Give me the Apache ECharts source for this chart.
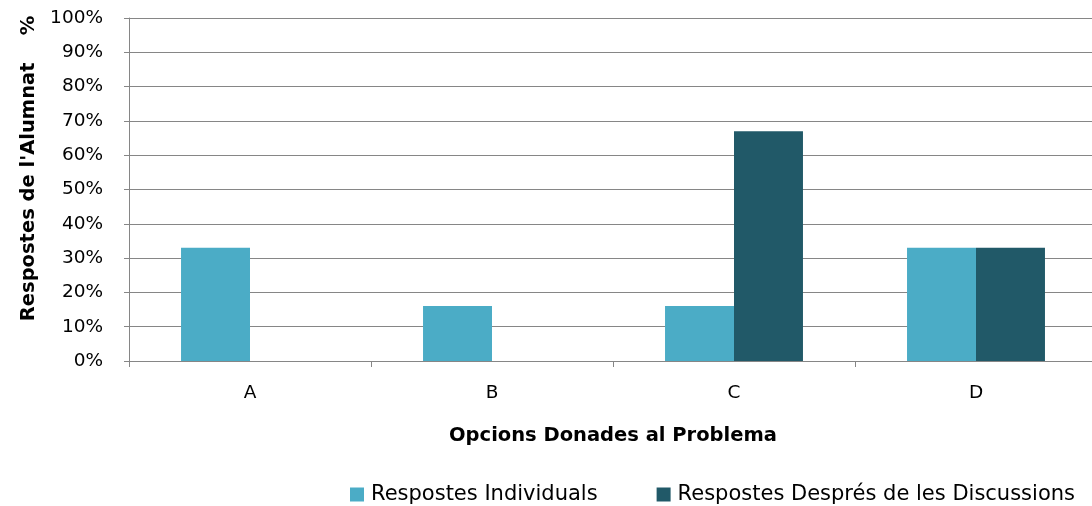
<!DOCTYPE html>
<html>
<head>
<meta charset="utf-8">
<script src="https://cdn.jsdelivr.net/npm/echarts@6/dist/echarts.min.js"></script>
<style>
  html, body { margin: 0; padding: 0; background: #fff; overflow: hidden; }
  #chart { width: 1100px; height: 506px; }
</style>
</head>
<body>
<div id="chart"></div>
<script>
// Answer options and the share of students choosing each one (%)
const categories = ['A', 'B', 'C', 'D'];
const individual = [33, 16, 16, 33];
const afterDiscussion = [0, 0, 67, 33];
const seriesNames = ['Respostes Individuals', 'Respostes Després de les Discussions'];
const yTicks = [0, 10, 20, 30, 40, 50, 60, 70, 80, 90, 100];

const FONT = 'DejaVu Sans';
const GRID_GREY = '#868686';

const chart = echarts.init(document.getElementById('chart'));
chart.setOption({
  animation: false,
  textStyle: { fontFamily: FONT, color: '#000' },
  // the plot runs slightly past the right edge of the visible page
  grid: { left: 129, right: 3, top: 18, bottom: 145 },
  legend: {
    data: seriesNames,
    left: 345,
    top: 479,
    icon: 'rect',
    itemWidth: 14,
    itemHeight: 14,
    itemGap: 59,
    textStyle: { fontFamily: FONT, fontSize: 21, color: '#000', padding: [0, 0, 0, 2] }
  },
  xAxis: {
    type: 'category',
    data: categories,
    name: 'Opcions Donades al Problema',
    nameLocation: 'middle',
    nameGap: 65,
    nameTextStyle: { fontFamily: FONT, fontSize: 19.5, fontWeight: 'bold', color: '#000' },
    axisLine: { lineStyle: { color: GRID_GREY, width: 1 } },
    axisTick: { show: true, length: 6, interval: 0, lineStyle: { color: GRID_GREY } },
    axisLabel: { fontFamily: FONT, fontSize: 18.5, color: '#000', margin: 23 }
  },
  yAxis: {
    type: 'value',
    min: yTicks[0],
    max: yTicks[yTicks.length - 1],
    interval: 10,
    name: "Respostes de l'Alumnat    %",
    nameLocation: 'middle',
    nameRotate: 90,
    nameGap: 90,
    nameTextStyle: { fontFamily: FONT, fontSize: 19.5, fontWeight: 'bold', color: '#000', padding: [0, 0, 0, 42] },
    axisLine: { show: true, lineStyle: { color: GRID_GREY, width: 1 } },
    axisTick: { show: true, length: 5, lineStyle: { color: GRID_GREY } },
    axisLabel: { fontFamily: FONT, fontSize: 18.5, color: '#000', margin: 26, formatter: '{value}%' },
    splitLine: { show: true, lineStyle: { color: GRID_GREY, width: 1 } }
  },
  series: [
    {
      name: seriesNames[0],
      type: 'bar',
      data: individual,
      barGap: '0%',
      barCategoryGap: '43%',
      itemStyle: { color: '#4BACC6', borderWidth: 0 }
    },
    {
      name: seriesNames[1],
      type: 'bar',
      data: afterDiscussion,
      itemStyle: { color: '#215968', borderWidth: 0 }
    }
  ]
});
</script>
</body>
</html>
